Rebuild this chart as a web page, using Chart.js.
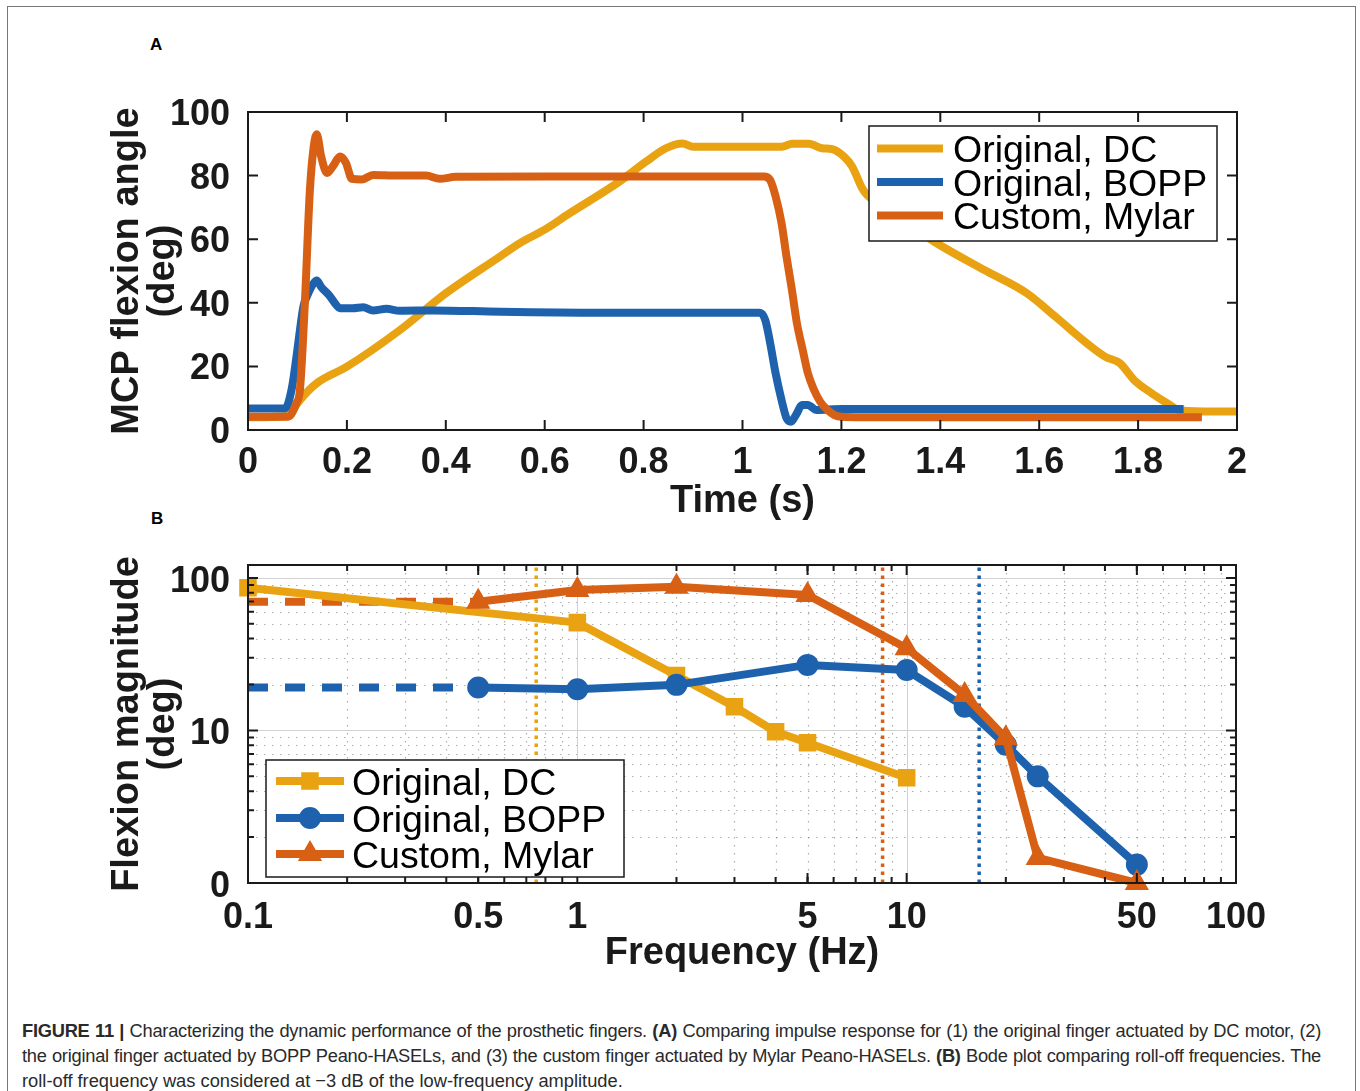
<!DOCTYPE html>
<html>
<head>
<meta charset="utf-8">
<script src="https://cdn.jsdelivr.net/npm/chart.js@4.4.1/dist/chart.umd.min.js"></script>
<style>
  html, body { margin: 0; padding: 0; background: #fff; }
  body { width: 1360px; height: 1091px; position: relative; overflow: hidden; font-family: "Liberation Sans", Arial, sans-serif; }
  .frame { position: absolute; left: 7px; top: 6px; width: 1347px; height: 1200px; border: 1.5px solid #777; }
  .tag { position: absolute; font: bold 17px/17px "Liberation Sans", Arial, sans-serif; color: #000; }
  #chartA { position: absolute; left: 0; top: 0; }
  #chartB { position: absolute; left: 0; top: 520px; }
  .caption { position: absolute; left: 22px; top: 1018px; width: 1299px; color: #2a2a2a;
             font: 18.3px/25px "Liberation Sans", Arial, sans-serif; }
  .caption div { white-space: nowrap; text-align: justify; text-align-last: justify; letter-spacing: -0.25px; }
  .caption div.last { text-align-last: left; letter-spacing: 0; }
</style>
</head>
<body>
<div class="frame"></div>
<div class="tag" style="left:150px; top:36px;">A</div>
<div class="tag" style="left:151px; top:510px;">B</div>
<canvas id="chartA" width="1360" height="520"></canvas>
<canvas id="chartB" width="1360" height="480"></canvas>
<div class="caption">
  <div><b>FIGURE 11 |</b> Characterizing the dynamic performance of the prosthetic fingers. <b>(A)</b> Comparing impulse response for (1) the original finger actuated by DC motor, (2)</div>
  <div>the original finger actuated by BOPP Peano-HASELs, and (3) the custom finger actuated by Mylar Peano-HASELs. <b>(B)</b> Bode plot comparing roll-off frequencies. The</div>
  <div class="last">roll-off frequency was considered at &minus;3 dB of the low-frequency amplitude.</div>
</div>
<script>
// ---- (A) impulse response: MCP flexion angle (deg) vs time (s)
const timeDC = [0, 0.085, 0.091, 0.105, 0.139, 0.2, 0.307, 0.4, 0.509, 0.549, 0.6, 0.65, 0.751, 0.805, 0.845, 0.879, 0.9, 1.0, 1.08, 1.1, 1.134, 1.161, 1.181, 1.205, 1.222, 1.242, 1.252, 1.32, 1.388, 1.489, 1.575, 1.633, 1.705, 1.734, 1.763, 1.792, 1.828, 1.864, 1.878, 1.9, 2.0];
const angleDC = [4, 4.5, 6.3, 9.4, 14.7, 19.9, 31.4, 43, 54.5, 58.7, 63, 68.1, 78.1, 84.4, 88.6, 90.1, 89.1, 89.1, 89.1, 90, 90, 88.6, 88.3, 86, 82.8, 76, 73.9, 66.5, 59.2, 50.3, 43, 35.6, 26.2, 23, 21, 15.7, 11.5, 7.9, 6.5, 6, 5.8];

const timeBOPP = [0, 0.075, 0.088, 0.098, 0.105, 0.112, 0.122, 0.132, 0.139, 0.148, 0.166, 0.176, 0.186, 0.212, 0.233, 0.253, 0.28, 0.307, 0.374, 0.509, 0.71, 1.035, 1.046, 1.056, 1.067, 1.079, 1.089, 1.098, 1.108, 1.121, 1.132, 1.15, 1.2, 1.892];
const angleBOPP = [6.8, 6.8, 12.6, 23, 31.4, 38.8, 43, 46, 47, 45, 42, 39.8, 38.3, 38.3, 38.6, 37.6, 38.1, 37.5, 37.6, 37.2, 36.9, 36.9, 34.6, 27.3, 17.8, 9.4, 3.7, 2.6, 4.7, 7.9, 7.9, 6.3, 6.6, 6.6];

const timeMylar = [0, 0.081, 0.098, 0.105, 0.115, 0.125, 0.132, 0.139, 0.148, 0.16, 0.172, 0.186, 0.198, 0.21, 0.23, 0.253, 0.3, 0.36, 0.388, 0.42, 0.6, 1.043, 1.056, 1.067, 1.079, 1.089, 1.1, 1.11, 1.122, 1.132, 1.143, 1.157, 1.172, 1.186, 1.2, 1.3, 1.929];
const angleMylar = [4.2, 4.2, 8.5, 12.6, 40, 75, 88, 93, 86, 80.8, 83, 86, 84, 79, 78.8, 80.2, 80, 80, 79, 79.6, 79.7, 79.7, 78.6, 73.4, 65, 54.5, 44, 33.6, 25, 18, 13.2, 8.9, 6.3, 4.7, 4.2, 4, 4];

const timeTicks = [0, 0.2, 0.4, 0.6, 0.8, 1, 1.2, 1.4, 1.6, 1.8, 2];
const angleTicks = [0, 20, 40, 60, 80, 100];

// ---- (B) Bode magnitude: flexion magnitude (deg) vs frequency (Hz)
const freqDC = [0.1, 1, 2, 3, 4, 5, 10];
const magDC = [86.3, 50.9, 22.9, 14.3, 9.8, 8.3, 4.9];
const freqBOPP = [0.5, 1, 2, 5, 10, 15, 20, 25, 50];
const magBOPP = [19.1, 18.6, 19.9, 26.9, 24.9, 14.3, 8.05, 5.0, 1.32];
const freqMylar = [0.5, 1, 2, 5, 10, 15, 20, 25, 50];
const magMylar = [69.8, 83.4, 87.5, 77.3, 34.6, 17.1, 8.9, 1.46, 1.0];
// -3 dB roll-off frequencies (DC, Mylar, BOPP)
const rolloffDC = 0.75, rolloffMylar = 8.45, rolloffBOPP = 16.6;

const freqTicks = [0.1, 0.5, 1, 5, 10, 50, 100];
const freqTickLabels = ['0.1', '0.5', '1', '5', '10', '50', '100'];
const magTicks = [1, 10, 100];
const magTickLabels = ['0', '10', '100'];
const freqMin = 0.1, freqMax = 100, magMin = 1, magMax = 121.5;

const colDC = '#E9A312', colBOPP = '#1E62AE', colMylar = '#D86014';
const ink = '#1a1a1a';

Chart.defaults.font.family = '"Liberation Sans", Arial, sans-serif';

const xy = (xs, ys) => xs.map((x, i) => ({ x, y: ys[i] }));

function logMinors(lo, hi) {
  const out = [];
  for (let d = lo; d < hi * 0.999; d *= 10) {
    for (let k = 2; k <= 9; k++) out.push(+(d * k).toPrecision(3));
  }
  return out;
}

// box, inward ticks and (optionally) a log grid
const axesFrame = {
  id: 'axesFrame',
  beforeDatasetsDraw(chart, args, o) {
    if (!o.grid) return;
    const { ctx, chartArea: a, scales: { x, y } } = chart;
    const vline = px => { ctx.beginPath(); ctx.moveTo(px, a.top); ctx.lineTo(px, a.bottom); ctx.stroke(); };
    const hline = py => { ctx.beginPath(); ctx.moveTo(a.left, py); ctx.lineTo(a.right, py); ctx.stroke(); };
    ctx.save();
    ctx.lineWidth = 1.2;
    ctx.strokeStyle = 'rgba(110,110,110,0.55)';
    ctx.setLineDash([1.5, 6.5]);
    o.xMinor.forEach(v => vline(Math.round(x.getPixelForValue(v)) + 0.5));
    o.yMinor.forEach(v => hline(Math.round(y.getPixelForValue(v)) + 0.5));
    ctx.setLineDash([]);
    ctx.lineWidth = 1;
    ctx.strokeStyle = '#d2d2d2';
    o.xMajor.forEach(v => vline(Math.round(x.getPixelForValue(v)) + 0.5));
    o.yMajor.forEach(v => hline(Math.round(y.getPixelForValue(v)) + 0.5));
    ctx.restore();
  },
  afterDatasetsDraw(chart, args, o) {
    const { ctx, chartArea: a, scales: { x, y } } = chart;
    ctx.save();
    ctx.strokeStyle = ink;
    ctx.lineWidth = 2;
    const ticks = (vals, len) => {
      ctx.beginPath();
      vals.forEach(v => {
        const px = x.getPixelForValue(v);
        if (px > a.left + 1 && px < a.right - 1) {
          ctx.moveTo(px, a.bottom); ctx.lineTo(px, a.bottom - len);
          ctx.moveTo(px, a.top); ctx.lineTo(px, a.top + len);
        }
      });
      ctx.stroke();
    };
    const yticks = (vals, len) => {
      ctx.beginPath();
      vals.forEach(v => {
        const py = y.getPixelForValue(v);
        if (py > a.top + 1 && py < a.bottom - 1) {
          ctx.moveTo(a.left, py); ctx.lineTo(a.left + len, py);
          ctx.moveTo(a.right, py); ctx.lineTo(a.right - len, py);
        }
      });
      ctx.stroke();
    };
    ticks(x.ticks.map(t => t.value), 10);
    yticks(y.ticks.map(t => t.value), 10);
    if (o.xMinor) ticks(o.xMinor, 6);
    if (o.yMinor) yticks(o.yMinor, 6);
    ctx.strokeRect(a.left, a.top, a.right - a.left, a.bottom - a.top);
    ctx.restore();
  }
};

// boxed legend drawn over the data
const boxLegend = {
  id: 'boxLegend',
  afterDatasetsDraw(chart, args, o) {
    const ctx = chart.ctx;
    const items = chart.data.datasets.filter(d => d.inLegend);
    ctx.save();
    ctx.fillStyle = '#fff';
    ctx.fillRect(o.left, o.top, o.width, o.height);
    ctx.lineWidth = 1.5;
    ctx.strokeStyle = ink;
    ctx.strokeRect(o.left, o.top, o.width, o.height);
    items.forEach((d, i) => {
      const y = o.rows[i];
      ctx.strokeStyle = d.borderColor;
      ctx.lineWidth = d.borderWidth;
      ctx.lineCap = 'butt';
      ctx.beginPath();
      ctx.moveTo(o.sample[0], y);
      ctx.lineTo(o.sample[1], y);
      ctx.stroke();
      if (d.pointRadius) {
        ctx.fillStyle = d.backgroundColor;
        ctx.strokeStyle = d.borderColor;
        ctx.lineWidth = d.pointBorderWidth;
        Chart.helpers.drawPoint(ctx, { pointStyle: d.pointStyle, radius: d.pointRadius, borderWidth: d.pointBorderWidth, rotation: 0 },
          (o.sample[0] + o.sample[1]) / 2, y);
      }
      ctx.fillStyle = '#000';
      ctx.font = o.font;
      ctx.textAlign = 'left';
      ctx.textBaseline = 'alphabetic';
      ctx.fillText(d.label, o.textX, y + o.baseline);
    });
    ctx.restore();
  }
};

const tickFont = { size: 36, weight: 'bold', lineHeight: 1.2 };
const titleFont = { size: 38, weight: 'bold', lineHeight: 0.95 };

// ---------------- panel A ----------------
const lineA = (label, xs, ys, color, order) => ({
  label, data: xy(xs, ys), borderColor: color, backgroundColor: color,
  borderWidth: 8, pointRadius: 0, cubicInterpolationMode: 'monotone',
  borderJoinStyle: 'round', borderCapStyle: 'butt', order, inLegend: true
});

new Chart(document.getElementById('chartA'), {
  type: 'line',
  data: {
    datasets: [
      lineA('Original, DC', timeDC, angleDC, colDC, 3),
      lineA('Original, BOPP', timeBOPP, angleBOPP, colBOPP, 2),
      lineA('Custom, Mylar', timeMylar, angleMylar, colMylar, 1)
    ]
  },
  options: {
    responsive: false, animation: false, events: [],
    layout: { padding: { left: 0, top: 112, right: 123, bottom: 0 } },
    scales: {
      x: {
        type: 'linear', min: 0, max: 2,
        afterBuildTicks: s => { s.ticks = timeTicks.map(v => ({ value: v })); },
        afterFit: s => { s.height = 90; },
        grid: { display: false }, border: { display: false },
        ticks: { padding: 3, font: tickFont, color: ink, maxRotation: 0, autoSkip: false,
                 callback: v => String(+Number(v).toFixed(1)) },
        title: { display: true, text: 'Time (s)', color: ink, font: { size: 38, weight: 'bold', lineHeight: 1 },
                 padding: { top: 0, bottom: -1 } }
      },
      y: {
        type: 'linear', min: 0, max: 100,
        afterBuildTicks: s => { s.ticks = angleTicks.map(v => ({ value: v })); },
        afterFit: s => { s.width = 248; },
        grid: { display: false }, border: { display: false },
        ticks: { padding: 10, labelOffset: 3, font: tickFont, color: ink, autoSkip: false },
        title: { display: true, text: ['MCP flexion angle', '(deg)'], color: ink, font: titleFont,
                 padding: { top: 109, bottom: 0 } }
      }
    },
    plugins: {
      legend: { display: false }, tooltip: { enabled: false },
      axesFrame: { grid: false },
      boxLegend: { left: 869, top: 126, width: 348, height: 115, rows: [148.5, 182, 215.5],
                   sample: [877, 943], textX: 953, baseline: 13.5, font: '37.5px "Liberation Sans", Arial, sans-serif' }
    }
  },
  plugins: [axesFrame, boxLegend]
});

// ---------------- panel B ----------------
const seriesB = (label, xs, ys, color, style, radius, order) => ({
  label, data: xy(xs, ys), borderColor: color, backgroundColor: color,
  borderWidth: 8, borderJoinStyle: 'round',
  pointStyle: style, pointRadius: radius, pointBorderWidth: 2,
  pointBackgroundColor: color, pointBorderColor: color,
  clip: false, order, inLegend: true
});
const lowFreqLine = (xs, ys, color) => ({
  data: [{ x: freqMin, y: ys[0] }, { x: xs[0], y: ys[0] }],
  borderColor: color, borderWidth: 8, borderDash: [20, 17], borderCapStyle: 'butt',
  pointRadius: 0, order: 5
});
const rolloffLine = (f, color) => ({
  data: [{ x: f, y: magMin }, { x: f, y: magMax }],
  borderColor: color, borderWidth: 3.5, borderDash: [3.5, 4.5], borderCapStyle: 'butt',
  pointRadius: 0, order: 10
});

new Chart(document.getElementById('chartB'), {
  type: 'line',
  data: {
    datasets: [
      seriesB('Original, DC', freqDC, magDC, colDC, 'rect', 11, 3),
      seriesB('Original, BOPP', freqBOPP, magBOPP, colBOPP, 'circle', 10, 2),
      seriesB('Custom, Mylar', freqMylar, magMylar, colMylar, 'triangle', 12, 1),
      lowFreqLine(freqMylar, magMylar, colMylar),
      lowFreqLine(freqBOPP, magBOPP, colBOPP),
      rolloffLine(rolloffDC, colDC),
      rolloffLine(rolloffMylar, colMylar),
      rolloffLine(rolloffBOPP, colBOPP)
    ]
  },
  options: {
    responsive: false, animation: false, events: [],
    layout: { padding: { left: 0, top: 45, right: 124, bottom: 0 } },
    scales: {
      x: {
        type: 'logarithmic', min: freqMin, max: freqMax,
        afterBuildTicks: s => { s.ticks = freqTicks.map(v => ({ value: v })); },
        afterFit: s => { s.height = 117; },
        grid: { display: false }, border: { display: false },
        ticks: { padding: 5, font: tickFont, color: ink, maxRotation: 0, autoSkip: false,
                 callback: (v, i) => freqTickLabels[i] },
        title: { display: true, text: 'Frequency (Hz)', color: ink, font: { size: 38, weight: 'bold', lineHeight: 1 },
                 padding: { top: 0, bottom: 27 } }
      },
      y: {
        type: 'logarithmic', min: magMin, max: magMax,
        afterBuildTicks: s => { s.ticks = magTicks.map(v => ({ value: v })); },
        afterFit: s => { s.width = 248; },
        grid: { display: false }, border: { display: false },
        ticks: { padding: 10, labelOffset: 4, font: tickFont, color: ink, autoSkip: false,
                 callback: (v, i) => magTickLabels[i] },
        title: { display: true, text: ['Flexion magnitude', '(deg)'], color: ink, font: titleFont,
                 padding: { top: 109, bottom: 0 } }
      }
    },
    plugins: {
      legend: { display: false }, tooltip: { enabled: false },
      axesFrame: { grid: true, xMajor: [1, 10], yMajor: [10, 100],
                   xMinor: logMinors(0.1, 100), yMinor: logMinors(1, 100) },
      boxLegend: { left: 266, top: 240, width: 358, height: 117, rows: [261, 298, 334],
                   sample: [276, 344], textX: 352, baseline: 13.5, font: '37.5px "Liberation Sans", Arial, sans-serif' }
    }
  },
  plugins: [axesFrame, boxLegend]
});
</script>
</body>
</html>
